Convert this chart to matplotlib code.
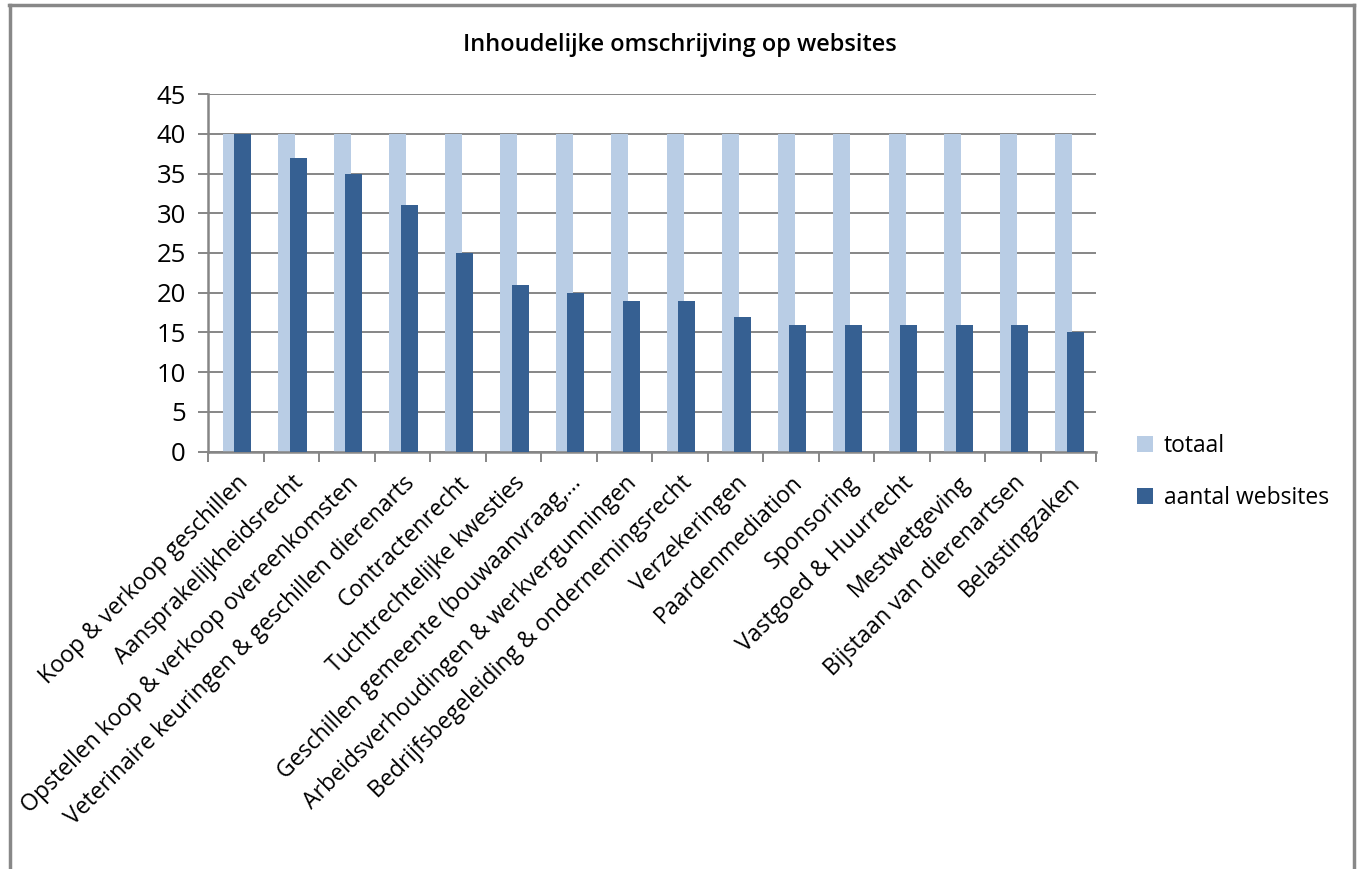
import matplotlib
matplotlib.use("Agg")
import matplotlib.pyplot as plt
import numpy as np
from matplotlib.lines import Line2D

categories = [
    "Koop & verkoop geschillen",
    "Aansprakelijkheidsrecht",
    "Opstellen koop & verkoop overeenkomsten",
    "Veterinaire keuringen & geschillen dierenarts",
    "Contractenrecht",
    "Tuchtrechtelijke kwesties",
    "Geschillen gemeente (bouwaanvraag,...",
    "Arbeidsverhoudingen & werkvergunningen",
    "Bedrijfsbegeleiding & ondernemingsrecht",
    "Verzekeringen",
    "Paardenmediation",
    "Sponsoring",
    "Vastgoed & Huurrecht",
    "Mestwetgeving",
    "Bijstaan van dierenartsen",
    "Belastingzaken",
]
totaal = [40] * 16
aantal_websites = [40, 37, 35, 31, 25, 21, 20, 19, 19, 17, 16, 16, 16, 16, 16, 15]

LIGHT = "#B9CDE5"
DARK = "#366092"
GRID = "#868686"

plt.rcParams["font.family"] = ["Open Sans", "DejaVu Sans"]

fig = plt.figure(figsize=(13.6, 8.69), dpi=100)
ax = fig.add_axes([0.153, 0.4802, 0.653, 0.4116])

x = np.arange(len(categories))
w = 0.31
b1 = ax.bar(x - 0.085, totaal, width=w, color=LIGHT, label="totaal", zorder=2)
b2 = ax.bar(x + 0.125, aantal_websites, width=w, color=DARK, label="aantal websites", zorder=3)

ax.set_xlim(-0.5, len(categories) - 0.5)
ax.set_ylim(0, 45)
ax.set_yticks(range(0, 46, 5))
ax.yaxis.grid(True, color=GRID, linewidth=1.4, zorder=1)
ax.set_axisbelow(True)

for s in ["top", "right"]:
    ax.spines[s].set_visible(False)
for s in ["left", "bottom"]:
    ax.spines[s].set_color(GRID)
    ax.spines[s].set_linewidth(1.8)

ax.set_xticks(x)
ax.set_xticklabels(categories, rotation=45, ha="right", va="top",
                   rotation_mode="anchor", fontsize=16.6)
ax.tick_params(axis="x", length=0, pad=14)
ax.set_xticks(np.arange(-0.5, len(categories), 1), minor=True)
ax.tick_params(axis="x", which="minor", length=7, width=1.4, color=GRID)
ax.tick_params(axis="y", length=7, width=1.4, color=GRID, labelsize=18.5, pad=9)

fig.text(0.5, 0.948, "Inhoudelijke omschrijving op websites",
         ha="center", va="center", fontsize=17, fontweight="semibold")

fig.legend(handles=[b1, b2], loc="center left", bbox_to_anchor=(0.821, 0.457),
           frameon=False, fontsize=16.5, handlelength=0.7, handleheight=0.7,
           labelspacing=1.25, handletextpad=0.45)

# outer frame
fc = "#888888"
fig.add_artist(Line2D([9 / 1360, 1354 / 1360], [1 - 5 / 869, 1 - 5 / 869],
                      transform=fig.transFigure, color=fc, linewidth=2.5))
fig.add_artist(Line2D([10 / 1360, 10 / 1360], [0, 1 - 5 / 869],
                      transform=fig.transFigure, color=fc, linewidth=2.5))
fig.add_artist(Line2D([1354 / 1360, 1354 / 1360], [0, 1 - 5 / 869],
                      transform=fig.transFigure, color=fc, linewidth=2.5))

fig.savefig("out.png", dpi=100, facecolor="white")
